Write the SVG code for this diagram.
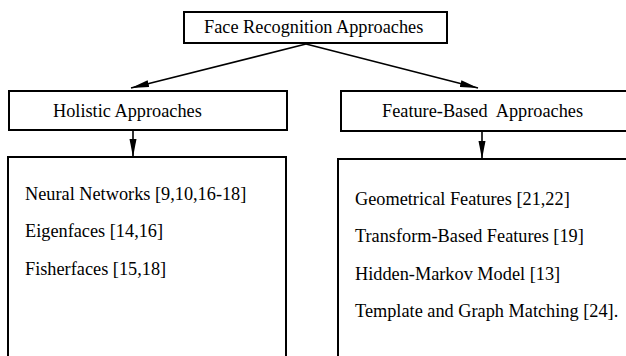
<svg xmlns="http://www.w3.org/2000/svg" width="626" height="356" viewBox="0 0 626 356">
<style>
.box{fill:#fff;stroke:#000;stroke-width:2}
.t{font-family:"Liberation Serif","Times New Roman",serif;font-size:18.3px;fill:#000}
.c{stroke:#000;stroke-width:1.6;fill:none}
</style>
<defs>
<marker id="ah" markerWidth="19" markerHeight="8" refX="18" refY="4" orient="auto" markerUnits="userSpaceOnUse">
<path d="M0,0.5 L18,4 L0,7.5 Z" fill="#000"/>
</marker>
</defs>
<rect width="626" height="356" fill="#fff"/>
<g id="root">
<rect class="box" x="184" y="12" width="263" height="31"/>
<text class="t" x="204" y="33">Face Recognition Approaches</text>
</g>
<g id="holistic">
<rect class="box" x="9" y="91" width="278" height="39"/>
<text class="t" x="53" y="117">Holistic Approaches</text>
</g>
<g id="feature">
<rect class="box" x="341" y="91" width="300" height="40"/>
<text class="t" x="382" y="117" xml:space="preserve">Feature-Based  Approaches</text>
</g>
<g id="holistic-list">
<rect class="box" x="8" y="157" width="278" height="210"/>
<text class="t" x="25" y="200">Neural Networks [9,10,16-18]</text>
<text class="t" x="25" y="237">Eigenfaces [14,16]</text>
<text class="t" x="25" y="275">Fisherfaces [15,18]</text>
</g>
<g id="feature-list">
<rect class="box" x="338" y="159" width="300" height="210"/>
<text class="t" x="355" y="205">Geometrical Features [21,22]</text>
<text class="t" x="355" y="242">Transform-Based Features [19]</text>
<text class="t" x="355" y="280">Hidden-Markov Model [13]</text>
<text class="t" x="355" y="317">Template and Graph Matching [24].</text>
</g>
<g id="connectors">
<line class="c" x1="306" y1="44" x2="131" y2="88" marker-end="url(#ah)"/>
<line class="c" x1="306" y1="44" x2="478" y2="88" marker-end="url(#ah)"/>
<line class="c" x1="133" y1="130" x2="133" y2="157" marker-end="url(#ah)"/>
<line class="c" x1="482" y1="131" x2="482" y2="159" marker-end="url(#ah)"/>
</g>
</svg>
